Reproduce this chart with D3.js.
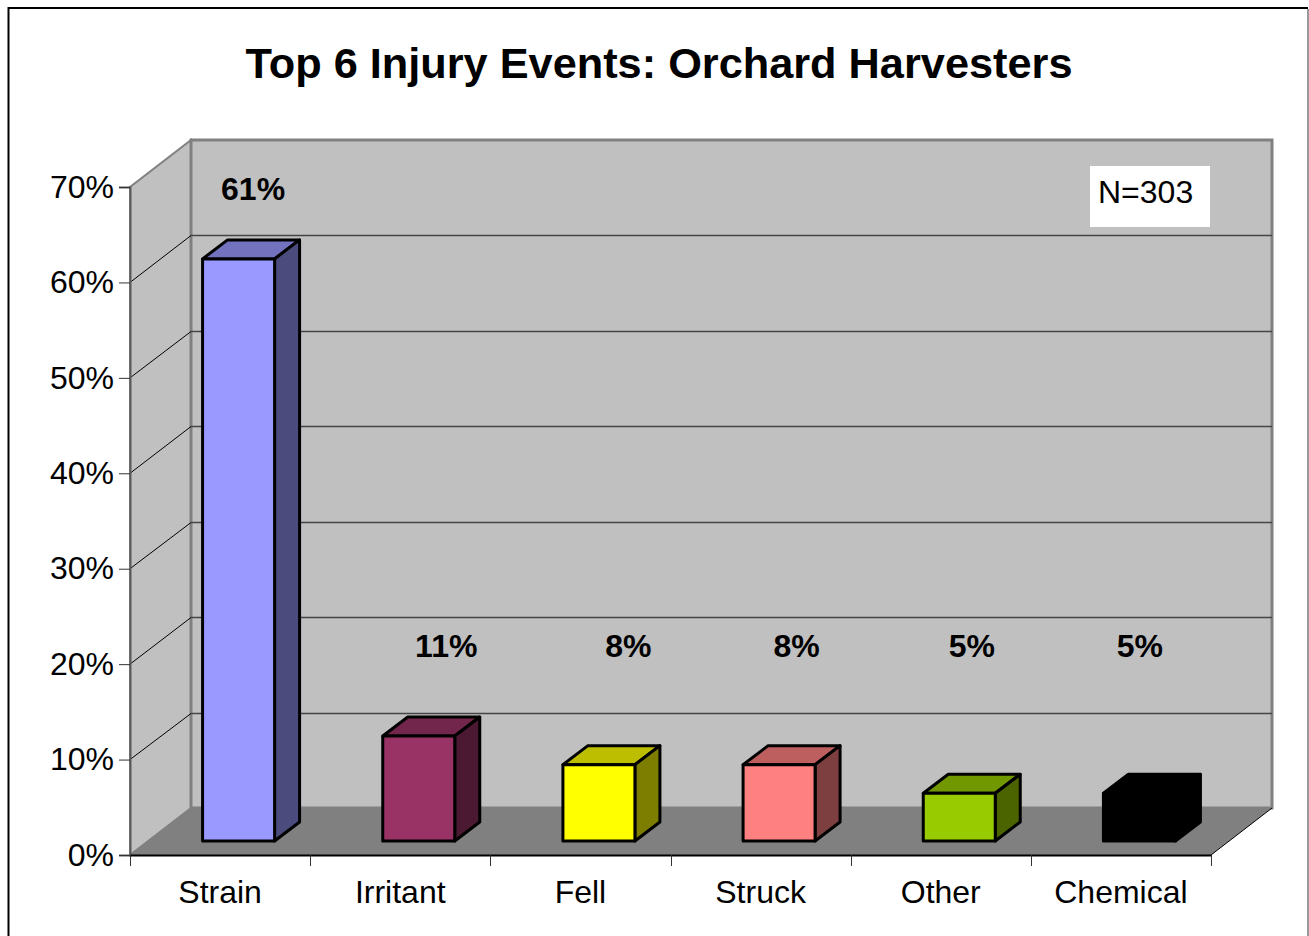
<!DOCTYPE html>
<html>
<head>
<meta charset="utf-8">
<script src="https://cdn.jsdelivr.net/npm/d3@7"></script>
<style>
html, body { margin: 0; padding: 0; background: #fff; overflow: hidden; }
text { font-family: "Liberation Sans", Arial, sans-serif; fill: #000; }
</style>
</head>
<body>
<div id="my_dataviz"></div>
<script>
// chart values
var categories = ["Strain", "Irritant", "Fell", "Struck", "Other", "Chemical"];
var values = [61, 11, 8, 8, 5, 5];
var valueLabels = ["61%", "11%", "8%", "8%", "5%", "5%"];
var barColors = ["#9999ff", "#993366", "#ffff00", "#ff8080", "#99cc00", "#000000"];
var yTicks = [0, 10, 20, 30, 40, 50, 60, 70];
var chartTitle = "Top 6 Injury Events: Orchard Harvesters";
var note = "N=303";

var width = 1309, height = 936;

// front plane of the plot and the 3d depth
var left = 130, right = 1211, bottom = 855, top_ = 187;
var depthX = 61, depthY = -47;
var barDepthX = 25, barDepthY = -19;
var barOffX = 18.5, barOffY = -14;
var barWidth = 72;

var svg = d3.select("#my_dataviz")
  .append("svg")
  .attr("width", width)
  .attr("height", height)
  .style("display", "block");

var x = d3.scaleBand().domain(categories).range([left, right]);
var y = d3.scaleLinear().domain([0, 70]).range([bottom, top_]);

function poly(points) {
  return d3.line()(points) + "Z";
}

// chart area border
svg.append("path")
  .attr("d", "M8.5,936V8H1308")
  .attr("fill", "none")
  .attr("stroke", "#000")
  .attr("stroke-width", 2);
svg.append("path")
  .attr("d", "M1308,9V936")
  .attr("fill", "none")
  .attr("stroke", "#999")
  .attr("stroke-width", 2);

svg.append("text")
  .attr("x", 659)
  .attr("y", 78)
  .attr("text-anchor", "middle")
  .attr("font-size", 43.3)
  .attr("font-weight", "bold")
  .text(chartTitle);

// walls and floor
svg.append("path")
  .attr("d", poly([[left, y(70)], [left + depthX, y(70) + depthY], [left + depthX, y(0) + depthY], [left, y(0)]]))
  .attr("fill", "#c0c0c0")
  .attr("stroke", "#808080")
  .attr("stroke-width", 2);
svg.append("rect")
  .attr("x", left + depthX)
  .attr("y", y(70) + depthY)
  .attr("width", right - left)
  .attr("height", y(0) - y(70))
  .attr("fill", "#c0c0c0")
  .attr("stroke", "#808080")
  .attr("stroke-width", 3);
svg.append("path")
  .attr("d", poly([[left, y(0)], [left + depthX, y(0) + depthY], [right + depthX, y(0) + depthY], [right, y(0)]]))
  .attr("fill", "#808080");
svg.append("line")
  .attr("x1", right).attr("y1", y(0))
  .attr("x2", right + depthX).attr("y2", y(0) + depthY)
  .attr("stroke", "#000");

// gridlines, back wall and side wall
var grid = svg.append("g");
yTicks.slice(1, -1).forEach(function(t) {
  var yy = Math.round(y(t) + depthY) + 0.5;
  grid.append("line")
    .attr("x1", left + depthX).attr("x2", right + depthX)
    .attr("y1", yy).attr("y2", yy)
    .attr("stroke", "#444")
    .attr("stroke-width", 1.5);
  grid.append("line")
    .attr("x1", left).attr("x2", left + depthX)
    .attr("y1", y(t)).attr("y2", yy)
    .attr("stroke", "#000");
});

// y axis
var yAxis = svg.append("g")
  .attr("transform", "translate(" + left + ",0)")
  .call(d3.axisLeft(y).tickValues(yTicks).tickSize(11).tickPadding(5)
    .tickFormat(function(d) { return d + "%"; }));
yAxis.select(".domain").attr("stroke", "#5a5a5a").attr("stroke-width", 2);
yAxis.selectAll(".tick line").attr("stroke", "#333");
yAxis.selectAll("text")
  .attr("font-size", 32)
  .style("font-family", '"Liberation Sans", Arial, sans-serif');

// x axis
var xAxis = svg.append("g")
  .attr("transform", "translate(0," + bottom + ")")
  .call(d3.axisBottom(x).tickSize(0).tickPadding(25));
xAxis.select(".domain").attr("stroke", "#000").attr("stroke-width", 2);
xAxis.selectAll("text")
  .attr("font-size", 32)
  .style("font-family", '"Liberation Sans", Arial, sans-serif');
// ticks sit on the band edges
categories.concat([null]).forEach(function(c) {
  var xx = Math.round(c === null ? right : x(c)) + 0.5;
  svg.append("line")
    .attr("x1", xx).attr("x2", xx)
    .attr("y1", bottom).attr("y2", bottom + 11)
    .attr("stroke", "#333");
});

// bars: front, top and side faces
var bars = svg.selectAll(".bar")
  .data(categories)
  .enter()
  .append("g")
  .attr("class", "bar")
  .attr("stroke", "#000")
  .attr("stroke-width", 3)
  .attr("stroke-linejoin", "round");

function barBox(i) {
  var x0 = x(categories[i]) + (x.bandwidth() - barWidth) / 2 + barOffX;
  return { x0: x0, x1: x0 + barWidth, y0: y(0) + barOffY, y1: y(values[i]) + barOffY };
}

bars.append("path")
  .attr("d", function(d, i) {
    var b = barBox(i);
    return poly([[b.x0, b.y1], [b.x0 + barDepthX, b.y1 + barDepthY], [b.x1 + barDepthX, b.y1 + barDepthY], [b.x1, b.y1]]);
  })
  .attr("fill", function(d, i) { return d3.color(barColors[i]).darker(0.83); });
bars.append("path")
  .attr("d", function(d, i) {
    var b = barBox(i);
    return poly([[b.x1, b.y1], [b.x1 + barDepthX, b.y1 + barDepthY], [b.x1 + barDepthX, b.y0 + barDepthY], [b.x1, b.y0]]);
  })
  .attr("fill", function(d, i) { return d3.color(barColors[i]).darker(2); });
bars.append("path")
  .attr("d", function(d, i) {
    var b = barBox(i);
    return poly([[b.x0, b.y1], [b.x1, b.y1], [b.x1, b.y0], [b.x0, b.y0]]);
  })
  .attr("fill", function(d, i) { return barColors[i]; });

// value labels were placed by hand in the original, so these are offsets from each band
var labelDx = [33, 46, 48, 36, 31, 19];
var labelY = [188.5, 645.5, 645.5, 645.5, 645.5, 645.5];
svg.selectAll(".value-label")
  .data(valueLabels)
  .enter()
  .append("text")
  .attr("class", "value-label")
  .attr("x", function(d, i) { return x(categories[i]) + x.bandwidth() / 2 + labelDx[i]; })
  .attr("y", function(d, i) { return labelY[i]; })
  .attr("dy", "0.36em")
  .attr("text-anchor", "middle")
  .attr("font-size", 32)
  .attr("font-weight", "bold")
  .text(function(d) { return d; });

// N box
svg.append("rect")
  .attr("x", 1090).attr("y", 166)
  .attr("width", 120).attr("height", 61)
  .attr("fill", "#fff");
svg.append("text")
  .attr("x", 1098).attr("y", 203)
  .attr("font-size", 32)
  .text(note);
</script>
</body>
</html>
